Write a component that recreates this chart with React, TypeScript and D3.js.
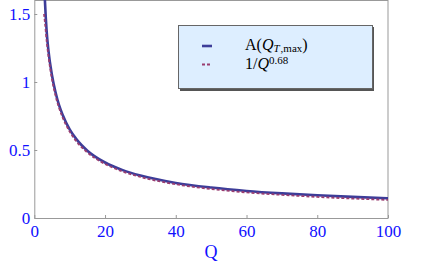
import React, { useEffect, useRef } from "react";
import * as d3 from "d3";

// Q values and curves
const qSolid = [2.9, 3, 3.5, 4, 5, 6, 7, 8, 10, 12, 15, 20, 25, 30, 40, 50, 60, 70, 80, 90, 100];
const aSolid = [1.66, 1.6, 1.37, 1.23, 1.05, 0.925, 0.83, 0.76, 0.652, 0.576, 0.495, 0.408, 0.352, 0.312, 0.258, 0.224, 0.199, 0.181, 0.167, 0.155, 0.145];

const qDash = [2.75, 3, 3.5, 4, 5, 6, 7, 8, 10, 12, 15, 20, 25, 30, 40, 50, 60, 70, 80, 90, 100];
const powDash = [1.5, 1.44, 1.3, 1.19, 1.02, 0.9, 0.81, 0.74, 0.635, 0.56, 0.482, 0.397, 0.342, 0.302, 0.248, 0.213, 0.188, 0.17, 0.155, 0.143, 0.133];

const xTicks = [0, 20, 40, 60, 80, 100];
const yTicks = [0, 0.5, 1, 1.5];

const W = 438;
const H = 273;
const left = 34.3;
const right = 388;
const top = 0;
const bottom = 218;

const solidColor = "#3d3d99";
const dashColor = "#993d70";
const axisColor = "#999999";
const labelColor = "#1010ff";
const font = "Liberation Serif, Times New Roman, Times, DejaVu Serif, serif";

export default function App() {
  const ref = useRef<SVGSVGElement>(null);

  useEffect(() => {
    const svg = d3.select(ref.current);
    svg.selectAll("*").remove();

    const x = d3.scaleLinear().domain([0, 100]).range([left, right]);
    const y = d3.scaleLinear().domain([0, 1.6]).range([bottom, bottom - 1.6 * 136]);

    svg.append("defs").append("clipPath").attr("id", "plotclip")
      .append("rect")
      .attr("x", left).attr("y", top)
      .attr("width", right - left).attr("height", bottom - top);

    // frame (top + right)
    svg.append("line")
      .attr("x1", left).attr("x2", right).attr("y1", 0.5).attr("y2", 0.5)
      .attr("stroke", axisColor);
    svg.append("line")
      .attr("x1", right).attr("x2", right).attr("y1", top).attr("y2", bottom)
      .attr("stroke", axisColor);

    // x axis
    const gx = svg.append("g")
      .attr("transform", `translate(0, ${bottom})`)
      .call(d3.axisBottom(x).tickValues(xTicks).tickSizeInner(-3).tickSizeOuter(0).tickFormat(d3.format("d")));
    gx.attr("font-family", null).attr("font-size", null);
    gx.select(".domain").attr("stroke", axisColor);
    gx.selectAll(".tick line").attr("stroke", axisColor);
    gx.selectAll(".tick text")
      .attr("y", 19).attr("dy", 0)
      .attr("fill", labelColor)
      .style("font-family", font)
      .style("font-size", "17px");

    // y axis
    const gy = svg.append("g")
      .attr("transform", `translate(${left}, 0)`)
      .call(d3.axisLeft(y).tickValues(yTicks).tickSizeInner(-3).tickSizeOuter(0).tickFormat((d) => String(d)));
    gy.attr("font-family", null).attr("font-size", null);
    gy.select(".domain").attr("stroke", axisColor);
    gy.selectAll(".tick line").attr("stroke", axisColor);
    gy.selectAll(".tick text")
      .attr("x", -4).attr("dy", "0.34em")
      .attr("fill", labelColor)
      .style("font-family", font)
      .style("font-size", "17px");

    svg.append("text")
      .attr("x", 211).attr("y", 258)
      .attr("text-anchor", "middle")
      .attr("fill", labelColor)
      .style("font-family", font)
      .style("font-size", "18px")
      .text("Q");

    // curves
    const line = d3.line<[number, number]>()
      .x((d) => x(d[0]))
      .y((d) => y(d[1]))
      .curve(d3.curveMonotoneX);

    const plot = svg.append("g").attr("clip-path", "url(#plotclip)");
    plot.append("path")
      .attr("d", line(qSolid.map((q, i) => [q, aSolid[i]])))
      .attr("fill", "none")
      .attr("stroke", solidColor)
      .attr("stroke-width", 2.6);
    plot.append("path")
      .attr("d", line(qDash.map((q, i) => [q, powDash[i]])))
      .attr("fill", "none")
      .attr("stroke", dashColor)
      .attr("stroke-width", 1.8)
      .attr("stroke-dasharray", "3,2");

    // legend
    const lg = svg.append("g");
    lg.append("rect")
      .attr("x", 180).attr("y", 27).attr("width", 194).attr("height", 64)
      .attr("fill", "#555");
    lg.append("rect")
      .attr("x", 178.5).attr("y", 25.5).attr("width", 194).attr("height", 63)
      .attr("fill", "#ddeeff").attr("stroke", "#666").attr("stroke-width", 1);

    lg.append("line")
      .attr("x1", 202).attr("x2", 212).attr("y1", 46).attr("y2", 46)
      .attr("stroke", solidColor).attr("stroke-width", 2.6);
    lg.append("line")
      .attr("x1", 202).attr("x2", 212).attr("y1", 64.5).attr("y2", 64.5)
      .attr("stroke", dashColor).attr("stroke-width", 1.8)
      .attr("stroke-dasharray", "3,2");

    const t1 = lg.append("text")
      .attr("x", 245).attr("y", 50)
      .style("font-family", font)
      .style("font-size", "16px")
      .attr("fill", "#000");
    t1.append("tspan").text("A(");
    t1.append("tspan").style("font-style", "italic").text("Q");
    t1.append("tspan").attr("dy", 2).style("font-size", "11px").style("font-style", "italic").text("T");
    t1.append("tspan").attr("dx", 1).style("font-size", "11px").text(",max");
    t1.append("tspan").attr("dy", -2).text(")");

    const t2 = lg.append("text")
      .attr("x", 245).attr("y", 68.5)
      .style("font-family", font)
      .style("font-size", "16px")
      .attr("fill", "#000");
    t2.append("tspan").text("1/");
    t2.append("tspan").style("font-style", "italic").text("Q");
    t2.append("tspan").attr("dy", -5).style("font-size", "11px").text("0.68");
  }, []);

  return (
    <div style={{ position: "absolute", left: 0, top: 0 }}>
      <svg ref={ref} width={W} height={H} style={{ display: "block", background: "#fff" }} />
    </div>
  );
}
